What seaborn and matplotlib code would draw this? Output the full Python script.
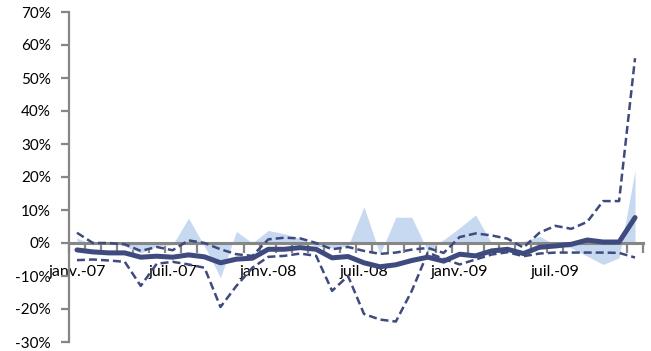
import numpy as np
import pandas as pd
import matplotlib
matplotlib.use("Agg")
import matplotlib.pyplot as plt
import seaborn as sns

# monthly series, janv.-07 .. déc.-09 (values in %)
months = pd.date_range("2007-01-01", periods=36, freq="MS")
tick_labels = ["janv.-07", "juil.-07", "janv.-08", "juil.-08", "janv.-09", "juil.-09"]

area = [1.5, -0.5, 0.5, -1.0, -3.0, -1.0, -0.5, 7.5, -1.0, -10.5, 3.5, 0.0,
        3.8, 2.8, 1.4, -1.0, -1.5, -1.0, 11.0, -3.4, 7.8, 7.8, -2.5, 1.0,
        4.6, 8.5, 0.0, 0.0, 0.5, 2.0, -0.5, -1.5, -4.0, -6.5, -4.5, 22.0]

central = [-2.1, -2.7, -3.0, -3.0, -4.3, -4.0, -4.3, -3.6, -4.2, -6.0, -4.9, -4.6,
           -1.9, -1.9, -1.4, -1.9, -4.5, -4.1, -6.0, -7.2, -6.6, -5.3, -4.3, -5.5,
           -3.4, -3.9, -2.4, -1.9, -3.2, -1.3, -0.9, -0.4, 0.9, 0.3, 0.3, 7.7]

upper = [3.1, 0.0, 0.0, -0.4, -2.4, -1.2, -2.2, 0.8, 0.0, -1.9, -3.4, -3.9,
         1.1, 1.6, 1.4, 0.0, -1.9, -1.2, -2.4, -3.3, -2.9, -2.0, -1.5, -3.0,
         1.8, 2.9, 2.3, 1.3, -1.4, 3.1, 5.2, 4.3, 6.4, 12.7, 12.7, 56.0]

lower = [-5.2, -5.0, -5.3, -5.7, -13.0, -6.3, -5.7, -6.5, -7.5, -19.4, -13.0, -7.5,
         -4.2, -3.9, -3.2, -3.9, -14.5, -10.0, -21.5, -23.2, -23.8, -14.5, -2.9, -4.8,
         -6.5, -5.0, -3.5, -2.8, -4.0, -3.2, -2.9, -2.9, -2.9, -2.9, -3.0, -4.4]

df = pd.DataFrame({"pos": np.arange(len(months)), "area": area,
                   "central": central, "upper": upper, "lower": lower})

sns.set_style("white")
plt.rcParams["font.family"] = ["Lato", "DejaVu Sans"]

navy = "#3F4A7E"
grey = "#868686"

fig = plt.figure(figsize=(6.51, 3.51), dpi=100)
ax = fig.add_axes([69 / 651, 9 / 351, 574 / 651, 330 / 351])

ax.fill_between(df["pos"], df["area"], 0, color="#C6D9F1", lw=0, zorder=1)
sns.lineplot(data=df, x="pos", y="upper", color=navy, lw=1.8,
             linestyle=(0, (3.2, 1.6)), ax=ax, zorder=3)
sns.lineplot(data=df, x="pos", y="lower", color=navy, lw=1.8,
             linestyle=(0, (3.2, 1.6)), ax=ax, zorder=3)
sns.lineplot(data=df, x="pos", y="central", color=navy, lw=3.6,
             solid_capstyle="round", ax=ax, zorder=4)

ax.set_xlim(-0.5, 35.5)
ax.set_ylim(-30, 70)
ax.set_xlabel("")
ax.set_ylabel("")

# axes look
for s in ["top", "right"]:
    ax.spines[s].set_visible(False)
ax.spines["bottom"].set_position(("data", 0))
ax.spines["bottom"].set_color(grey)
ax.spines["bottom"].set_linewidth(2.2)
ax.spines["bottom"].set_zorder(2)
ax.spines["left"].set_color(grey)
ax.spines["left"].set_linewidth(1.6)

ax.set_yticks(np.arange(-30, 71, 10))
ax.set_yticklabels([f"{v}%" for v in range(-30, 71, 10)])
ax.tick_params(axis="y", left=True, direction="out", length=6, width=1.6,
               color=grey, labelsize=11, pad=7, labelcolor="black")

ax.set_xticks(np.arange(0, 36, 6))
ax.set_xticklabels(tick_labels)
ax.set_xticks(np.arange(-0.5, 36, 1), minor=True)
ax.tick_params(axis="x", which="major", bottom=True, length=0, pad=16,
               labelsize=11.5, labelcolor="black")
ax.tick_params(axis="x", which="minor", bottom=True, direction="out", length=7,
               width=1.6, color=grey)

fig.savefig("out.png", dpi=100)
